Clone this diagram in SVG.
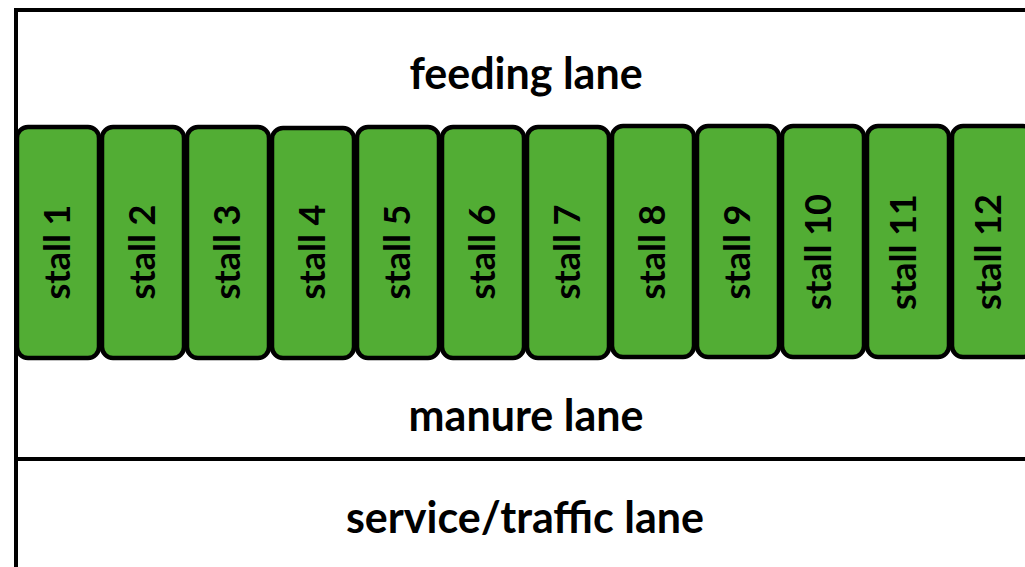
<svg xmlns="http://www.w3.org/2000/svg" width="1025" height="567" viewBox="0 0 1025 567">
<style>
.wall{stroke:#000;stroke-width:4;fill:none}
.stall{fill:#52ad34;stroke:#000;stroke-width:4.5}
.lbl{font-family:Lato,"Liberation Sans",sans-serif;font-weight:bold;fill:#000;text-anchor:middle}
.lane{font-size:43px}
.st{font-size:36px}
</style>
<rect width="1025" height="567" fill="#fff"/>
<g id="walls">
<path class="wall" d="M16 567 V10 H1030 M16 459 H1030"/>
</g>
<g id="feeding-lane"><text class="lbl lane" x="526" y="89">feeding lane</text></g>
<g id="manure-lane"><text class="lbl lane" x="526" y="431">manure lane</text></g>
<g id="service-lane"><text class="lbl lane" x="525" y="533">service/traffic lane</text></g>
<g id="stall1"><rect class="stall" x="17" y="127" width="82" height="231" rx="11"/><text class="lbl st" transform="translate(70,252) rotate(-90)">stall 1</text></g>
<g id="stall2"><rect class="stall" x="102" y="127" width="82" height="231" rx="11"/><text class="lbl st" transform="translate(155,252) rotate(-90)">stall 2</text></g>
<g id="stall3"><rect class="stall" x="187" y="127" width="82" height="231" rx="11"/><text class="lbl st" transform="translate(240,252) rotate(-90)">stall 3</text></g>
<g id="stall4"><rect class="stall" x="272" y="128" width="82" height="230" rx="11"/><text class="lbl st" transform="translate(325,252) rotate(-90)">stall 4</text></g>
<g id="stall5"><rect class="stall" x="357" y="127" width="82" height="231" rx="11"/><text class="lbl st" transform="translate(410,252) rotate(-90)">stall 5</text></g>
<g id="stall6"><rect class="stall" x="442" y="127" width="82" height="231" rx="11"/><text class="lbl st" transform="translate(495,252) rotate(-90)">stall 6</text></g>
<g id="stall7"><rect class="stall" x="527" y="127" width="82" height="231" rx="11"/><text class="lbl st" transform="translate(580,252) rotate(-90)">stall 7</text></g>
<g id="stall8"><rect class="stall" x="612" y="126" width="82" height="231" rx="11"/><text class="lbl st" transform="translate(665,252) rotate(-90)">stall 8</text></g>
<g id="stall9"><rect class="stall" x="697" y="126" width="82" height="231" rx="11"/><text class="lbl st" transform="translate(750,252) rotate(-90)">stall 9</text></g>
<g id="stall10"><rect class="stall" x="782" y="126" width="82" height="231" rx="11"/><text class="lbl st" transform="translate(831,252) rotate(-90)">stall 10</text></g>
<g id="stall11"><rect class="stall" x="867" y="126" width="82" height="231" rx="11"/><text class="lbl st" transform="translate(916,252) rotate(-90)">stall 11</text></g>
<g id="stall12"><rect class="stall" x="952" y="126" width="82" height="231" rx="11"/><text class="lbl st" transform="translate(1001,252) rotate(-90)">stall 12</text></g>
</svg>
